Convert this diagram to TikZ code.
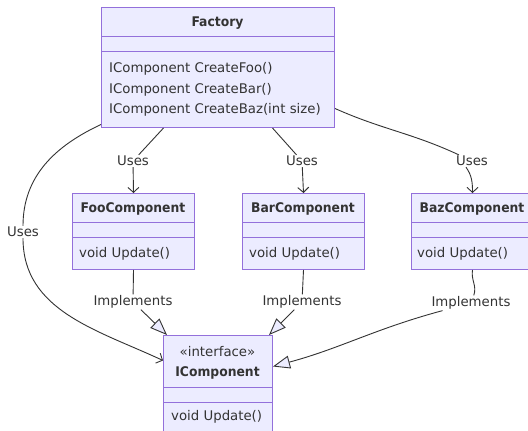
\documentclass[tikz,border=0pt]{standalone}
\usepackage{graphicx}
\usepackage{fontspec}
\setmainfont{DejaVu Sans}
\usetikzlibrary{arrows.meta}
\definecolor{clsfill}{HTML}{ECECFF}
\definecolor{clsline}{HTML}{9370DB}
\definecolor{ink}{HTML}{333333}
\newcommand{\clsname}[1]{\scalebox{0.93}[1]{\bfseries #1}}
\begin{document}
\begin{tikzpicture}[x=1pt,y=-1pt,
  font=\fontsize{13.3}{16}\selectfont, text=ink,
  cls/.style={draw=clsline, fill=clsfill, line width=1pt, inner sep=0pt, anchor=north west},
  sep/.style={draw=clsline, line width=1pt},
  title/.style={inner sep=0pt},
  member/.style={anchor=west, inner sep=0pt},
  lbl/.style={fill=white, inner sep=1pt},
  link/.style={draw=ink, line width=0.9pt},
  uses/.style={link, -{Straight Barb[length=5pt,width=11pt]}},
  impl/.style={link, -{Triangle[length=17pt,width=13pt,fill=clsfill]}}
]
\fill[white] (0,0) rectangle (528,431);
\useasboundingbox (0,0) rectangle (528,431);

% ---- class boxes ----
\node[cls, minimum width=233pt, minimum height=120pt] (factory) at (101,7) {};
\node[cls, minimum width=122pt, minimum height=76pt] (foo) at (72,193) {};
\node[cls, minimum width=122pt, minimum height=76pt] (bar) at (242,193) {};
\node[cls, minimum width=122pt, minimum height=76pt] (baz) at (411,193) {};
\node[cls, minimum width=109pt, minimum height=99pt] (icomp) at (163,335) {};

% compartment separators
\foreach \c/\a/\b in {factory/29/44, foo/29/44, bar/29/44, baz/29/44, icomp/52/67} {
  \draw[sep] ([yshift=-\a pt]\c.north west) -- ([yshift=-\a pt]\c.north east);
  \draw[sep] ([yshift=-\b pt]\c.north west) -- ([yshift=-\b pt]\c.north east);
}

% ---- class texts ----
\node[title] (factoryname) at (217.5,23) {\clsname{Factory}};
\node[member] (fm1) at (109,69) {IComponent CreateFoo()};
\node[member] (fm2) at (109,89.5) {IComponent CreateBar()};
\node[member] (fm3) at (109,110) {IComponent CreateBaz(int size)};

\node[title] (fooname) at (133,209) {\clsname{FooComponent}};
\node[member] (foom) at (79,254) {void Update()};
\node[title] (barname) at (303,209) {\clsname{BarComponent}};
\node[member] (barm) at (249,254) {void Update()};
\node[title] (bazname) at (472,209) {\clsname{BazComponent}};
\node[member] (bazm) at (417,254) {void Update()};

\node[title] (istereo) at (217.5,352) {«interface»};
\node[title] (iname) at (217.5,373) {\clsname{IComponent}};
\node[member] (im) at (171,417) {void Update()};

% ---- edge labels ----
\node[lbl] (u1) at (133,161) {Uses};
\node[lbl] (u2) at (302,161) {Uses};
\node[lbl] (u3) at (472,161) {Uses};
\node[lbl] (u4) at (23,232) {Uses};
\node[lbl] (i1) at (133,302) {Implements};
\node[lbl] (i2) at (302,302) {Implements};
\node[lbl] (i3) at (471,303) {Implements};

% ---- dependencies ----
\draw[link] ([xshift=-54.5pt]factory.south) -- (u1);
\draw[uses] (u1) -- (foo.north);
\draw[link] ([xshift=54.5pt]factory.south) -- (u2);
\draw[uses] (u2) -- (bar.north);
\draw[link] ([yshift=-41pt]factory.east) to[out=-24,in=155] (u3);
\draw[uses] ([xshift=-6pt]u3.south) to[out=-55,in=90] (baz.north);
\draw[link] ([yshift=-57pt]factory.west) to[out=205,in=90] (u4);
\draw[uses] (u4) to[out=-90,in=155] ([yshift=24.5pt]icomp.west);

% ---- realizations ----
\draw[link] (foo.south) -- (i1);
\draw[impl] (i1) -- ([xshift=4pt]icomp.north west);
\draw[link] (bar.south) -- (i2);
\draw[impl] (i2) -- ([xshift=-4pt]icomp.north east);
\draw[link] (baz.south) to[out=-100,in=70] (i3);
\draw[impl] (i3) to[out=195,in=15] ([yshift=18.5pt]icomp.east);
\end{tikzpicture}
\end{document}
